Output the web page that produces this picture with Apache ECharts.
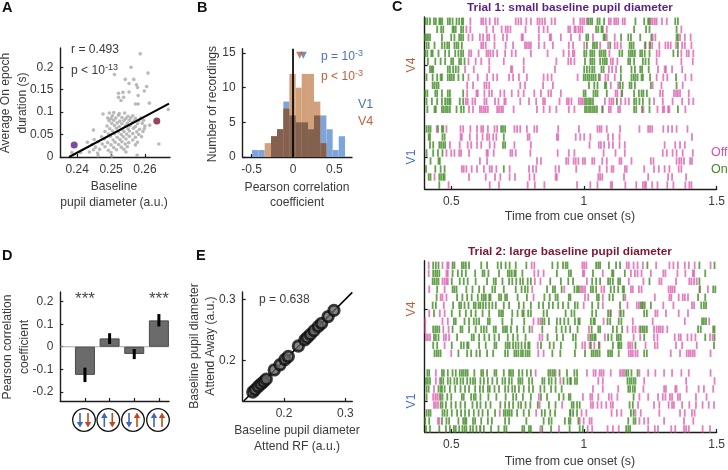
<!DOCTYPE html>
<html><head><meta charset="utf-8">
<style>html,body{margin:0;padding:0;background:#fff}#c{width:728px;height:470px}</style>
<script src="https://cdn.jsdelivr.net/npm/echarts@6/dist/echarts.min.js"></script>
</head><body><div id="c"></div>
<script>
// Panel A: baseline pupil diameter vs. average On epoch duration
const scatterA = [[.2586,.230],[.2559,.200],[.2510,.184],[.2542,.173],[.2567,.173],[.2609,.187],[.2553,.164],[.2575,.161],[.2605,.157],[.2522,.142],[.2535,.144],[.2522,.133],[.2537,.133],[.2598,.147],[.2553,.145],[.2578,.155],[.2580,.137],[.2572,.118],[.2580,.118],[.2613,.120],[.2529,.126],[.2669,.106],[.2476,.096],[.2448,.060],[.2641,.029],[.2614,.071],[.2384,.010],
[.2495,.098],[.2508,.099],[.2524,.097],[.2540,.098],[.2504,.092],[.2522,.093],[.2550,.091],[.2564,.092],[.2490,.087],[.2500,.086],[.2514,.087],[.2532,.088],[.2544,.086],[.2558,.087],[.2572,.086],[.2588,.087],[.2494,.081],[.2508,.082],[.2526,.080],[.2538,.081],[.2554,.082],[.2568,.080],[.2582,.081],[.2596,.082],[.2502,.075],[.2518,.076],[.2532,.074],[.2548,.075],[.2562,.076],[.2578,.074],[.2592,.075],[.2488,.069],[.2510,.070],[.2524,.068],[.2542,.069],[.2556,.070],[.2572,.068],[.2600,.069],[.2496,.063],[.2516,.064],[.2532,.062],[.2550,.063],[.2566,.064],[.2584,.062],[.2598,.063],[.2482,.057],[.2504,.058],[.2522,.056],[.2538,.057],[.2554,.058],[.2576,.056],[.2594,.057],[.2492,.051],[.2510,.052],[.2530,.050],[.2546,.051],[.2564,.052],[.2582,.050],[.2472,.045],[.2498,.046],[.2518,.044],[.2536,.045],[.2554,.046],[.2572,.044],[.2590,.045],[.2450,.039],[.2480,.040],[.2506,.038],[.2526,.039],[.2544,.040],[.2564,.038],[.2430,.033],[.2462,.034],[.2490,.032],[.2512,.033],[.2532,.034],[.2552,.032],[.2578,.033],[.2444,.028],[.2474,.029],[.2500,.027],[.2522,.028],[.2542,.029],[.2572,.027],[.2454,.022],[.2482,.023],[.2508,.021],[.2530,.022],[.2548,.023],[.2448,.016],[.2466,.017],[.2492,.015],[.2516,.016],[.2538,.017],[.2410,.010],[.2436,.011],[.2460,.009],[.2500,.010],[.2544,.011],[.2462,.003],[.2502,.002],[.2577,.004]];
const fitA = [[.2376,0],[.2671,.119]];
const trial1Point = [[.2391,.027]];
const trial2Point = [[.2635,.080]];
const ticksAx = [.24,.25,.26], ticksAy = [0,.05,.1,.15,.2];

// Panel B: histogram of correlations
const binEdges = [-.496,-.420,-.343,-.266,-.194,-.117,-.044,.032,.105,.182,.254,.331,.404,.480,.553,.630];
const countsV1 = [1,1,0,3,4,8,6,5,5,4,6,6,4,1,3];
const countsV4 = [0,0,2,3,4,7,12,10,12,12,8,2,0,0,0];
const meanV1 = .125, meanV4 = .08;
const ticksBx = [-.5,0,.5], ticksBy = [0,5,10,15];

// Panel C: spike raster, times in ms from cue onset, rows 1-12 V4, rows 13-20 V1
const t1On = [
[403,410,420,435,442,455,460,466,487,495,505,520,530,540,545,1016,1024,1031,1051,1059,1076,1194,1227,1242,1247,1344,1354],
[447,462,470,505,510,517,537,545,1046,1054,1066,1071,1189,1234,1247,1349],
[401,407,413,420,465,500,512,530,537,545,1009,1016,1074,1079,1140,1167,1177,1212,1254,1349,1354],
[407,415,437,465,475,485,492,512,520,527,540,1011,1034,1041,1049,1099,1172,1179,1187,1232,1249,1354],
[402,410,425,430,452,477,492,515,527,537,545,1001,1009,1024,1031,1039,1059,1066,1074,1081,1134,1144,1169,1177,1184,1192,1212,1219,1229,1247,1337,1354],
[412,440,460,477,500,507,530,537,550,1004,1024,1031,1039,1061,1071,1079,1086,1167,1174,1189,1222,1232,1244],
[420,427,432,487,495,507,517,527,1001,1011,1021,1031,1039,1066,1074,1139,1179,1192,1212,1219,1244],
[407,430,447,460,465,487,495,502,510,527,545,999,1006,1014,1021,1029,1036,1044,1056,1139,1179,1187,1194,1202,1217,1222,1249,1347],
[430,437,445,452,1019,1039,1051,1079,1084,1136,1146,1172,1179,1192,1252,1349],
[402,410,440,447,465,487,495,545,999,1006,1036,1044,1051,1086,1144,1189,1207,1217,1224,1237],
[407,427,447,465,477,485,492,497,532,545,1004,1011,1019,1026,1034,1124,1189,1197,1209,1222,1247],
[410,437,442,465,472,480,487,495,520,537,547,1004,1011,1019,1026,1034,1041,1049,1069,1189,1197,1219,1247,1354],
[407,415,422,450,465,470,688,695,703],
[415,420,467,475,698],
[420,432,455,462,470,477,695,703],
[407,432,450,467],
[422,452,457],
[405,440,460,475,698],
[415,422,455,462,470,475],
[455]];
const t1Off = [
[572,613,620,630,645,665,675,743,753,763,783,800,825,833,843,853,878,891,961,986,994,1001,1011,1094,1101,1114,1121,1129,1146,1154,1252,1259,1267,1274,1294,1312],
[557,572,633,658,690,705,713,723,780,830,848,863,941,948,964,969,979,986,994,1086,1367],
[565,580,608,620,635,643,663,695,710,765,770,830,871,876,913,951,984,1034,1086,1116,1259,1269,1362,1380,1402],
[613,620,630,663,705,733,778,785,793,800,830,851,883,943,959,1001,1061,1091,1116,1126,1139,1229,1247,1257,1284,1307,1317,1327,1347,1370,1380,1405],
[567,575,603,633,640,648,658,673,703,728,743,800,863,923,943,958,964,1096,1274,1284,1367,1387,1395,1412],
[565,592,613,643,698,773,896,941,951,964,1101,1109,1126,1274,1367,1410],
[552,585,643,725,730,773,891,1094,1106,1121,1279,1304,1309,1332,1370],
[565,600,635,658,673,718,733,755,785,848,863,878,976,1061,1081,1091,1116,1274,1299,1314,1382,1405],
[560,582,625,633,643,760,778,846,883,1101,1129,1259,1292,1372],
[560,595,600,625,643,653,685,700,728,753,773,813,838,866,876,913,1119,1126,1141,1287,1297,1339,1347,1354,1362,1395],
[555,562,580,590,625,633,665,678,700,705,760,793,820,846,853,908,936,943,953,981,989,996,1079,1096,1104,1111,1139,1156,1169,1264,1297,1334,1370,1395,1412],
[567,582,608,615,623,630,638,673,680,688,695,735,823,848,871,896,943,964,1071,1094,1101,1129,1136,1224,1277,1297,1302,1317,1322,1382],
[445,482,535,545,572,597,613,620,638,663,673,738,748,760,785,813,823,903,981,1051,1059,1066,1086,1136,1209,1242,1249,1257,1299,1317,1332,1349,1390],
[535,540,570,597,618,635,643,658,670,788,795,898,903,969,986,1001,1024,1091,1109,1134,1407],
[495,532,562,575,597,613,645,663,738,800,1021,1056,1064,1076,1094,1109,1134,1154,1304,1344,1362,1380],
[482,500,512,530,537,567,633,638,660,723,730,743,798,901,943,964,1074,1119,1154,1297,1312,1334,1349,1372,1410],
[608,635,823,838,933,941,961,969,979,996,1004,1031,1039,1069,1086,1134,1141,1179,1252,1262,1349,1359,1367,1377,1400,1407],
[540,547,557,577,597,623,645,653,670,720,793,808,820,893,906,971,1059,1086,1104,1111,1154,1161,1227,1264,1282,1304,1322,1357,1367],
[437,567,630,665,685,720,740,795,813,893,898,1054,1061,1069,1151,1242,1317,1332,1385],
[490,645,680,788,815,851,974,1024,1051,1101,1106,1156,1197,1222,1229,1234,1257,1277,1314,1337,1382,1397,1405]];
const t2On = [
[432,442,452,505,512,540,547,555,567,613,635,675,688,705,720,743,783,881,901,921,931,938,1046,1054,1061,1094,1121,1136,1239,1435,1492],
[432,440,447,455,505,525,540,555,590,618,625,640,680,713,720,728,738,743,768,898,943,951,1034,1106,1111,1154,1457],
[430,437,445,452,502,532,547,562,592,635,660,668,693,718,730,745,760,770,788,800,873,913,941,959,1031,1046,1061,1091,1099,1109,1129,1136,1247,1435],
[447,505,512,520,557,580,605,623,655,665,698,743,765,778,788,861,883,891,916,964,974,981,1026,1034,1046,1101,1114,1129,1146,1151,1437,1487,1495],
[445,522,542,560,577,600,615,623,630,643,648,680,688,703,710,750,785,851,871,893,901,943,949,1049,1056,1096,1109,1149,1430,1457],
[430,442,507,530,537,550,565,585,592,603,610,620,630,643,655,668,698,718,755,773,800,830,846,868,883,903,921,941,966,976,1031,1054,1136,1214,1222,1229,1252,1442,1452,1460],
[435,502,532,555,575,592,618,643,680,688,695,730,750,768,773,790,800,848,861,931,953,964,1031,1046,1091,1101,1139,1149,1227,1237],
[510,517,550,567,585,595,605,638,645,693,728,775,843,851,868,898,911,926,941,966,979,984,1026,1036,1041,1089,1099,1131,1141,1445,1452,1460],
[432,440,447,455,505,535,542,567,592,613,623,633,660,668,695,703,710,725,748,773,795,843,896,916,931,948,976,1029,1054,1061,1109,1124,1144,1214,1222,1229,1237,1430,1440,1487,1492],
[435,442,452,522,577,585,605,625,643,663,680,713,733,750,780,863,898,921,959,969,1024,1031,1039,1044,1091,1104,1124,1131,1139,1227,1457,1492],
[432,447,502,537,547,560,565,605,630,663,670,705,713,720,733,743,753,765,778,790,795,838,871,886,913,969,1026,1056,1109,1129,1134,1141,1194,1490],
[437,445,452,460,527,560,575,595,608,635,658,703,713,738,745,753,763,770,780,788,795,881,911,966,1004,1029,1036,1044,1051,1059,1091,1099,1106,1131,1227,1237],
[410,417,465,472,487,505,517,532,540,547,555,562,587,613,620,635,663,670,698,718,725,733,755,768,785,800,866,873,881,888,908,936,964,974,1159,1167,1179,1202],
[405,412,420,462,470,487,497,512,522,535,545,560,572,582,590,610,623,638,655,673,693,703,718,728,753,760,768,793,805,843,851,868,878,893,923,938,948,951,966,974,1164,1172,1179,1187,1194],
[407,415,452,460,465,475,495,515,535,552,567,590,608,620,638,645,663,680,703,715,730,740,755,773,793,808,836,851,876,893,916,1167,1174,1184,1192],
[407,460,467,485,500,540,547,575,585,592,610,640,670,705,733,745,770,800,838,861,906,923,943,949,1187],
[460,467,480,500,517,535,552,580,597,610,630,648,685,703,718,733,753,763,780,798,826,868,893,954,961,974,984,1172,1184],
[407,415,422,467,475,485,502,522,537,552,567,585,603,618,638,665,698,705,713,720,728,748,773,793,841,853,873,891,948,949,959,974,1177,1187],
[402,417,465,482,492,527,545,552,557,582,590,613,638,653,703,718,783,848,868,878,928,943,949,979,1167,1187,1194],
[405,420,455,480,495,510,517,530,542,550,557,572,582,595,610,623,650,678,700,708,768,775,793,800,843,876,946,984,996,1159,1167,1174]];
const t2Off = [
[415,467,485,490,803,813,994,1001,1009,1161,1169,1187,1202,1222,1272,1322,1337,1354,1380,1395,1417,1477],
[415,482,487,813,828,848,996,1001,1071,1177,1192,1202,1217,1252,1299,1307,1352,1382,1410,1415],
[467,475,482,487,815,836,1011,1169,1224,1284,1292,1347,1397,1405,1415,1425],
[417,475,805,926,989,996,1004,1066,1076,1177,1184,1207,1217,1319,1327,1334,1342,1435,1467],
[460,467,482,810,1004,1016,1071,1156,1267,1322,1329,1357,1372,1380,1392],
[472,999,1071,1164,1199,1207,1219,1299,1337,1407,1415],
[417,457,475,1099,1134,1269,1277,1309,1357,1392],
[402,467,487,810,828,836,1074,1184,1259,1380,1472],
[402,470,490,805,1019,1164,1184,1194,1209,1264,1274,1282,1289,1297,1314],
[405,412,420,472,480,492,833,843,1016,1079,1187,1212,1264,1277,1342,1357,1365,1390,1405,1420,1475,1485],
[475,826,994,1004,1021,1039,1059,1167,1174,1182,1232,1267,1277,1347,1370,1425],
[500,828,848,1169,1177,1184,1194,1202,1327,1362,1387,1395,1402,1410,1417,1477],
[442,818,893,1011,1036,1044,1059,1066,1074,1101,1136,1144,1151,1209,1242,1269,1302,1332,1367,1395,1477],
[442,457,911,1054,1071,1227,1385,1492],
[435,1034,1071,1129,1224,1302,1309,1344,1349,1387,1432,1452,1487],
[432,440,447,455,830,996,1024,1031,1054,1094,1104,1126,1209,1242,1279,1297,1307,1324,1332,1354,1362,1422,1462],
[435,442,450,833,918,1026,1034,1051,1066,1084,1101,1109,1204,1264,1284,1319,1332,1339,1370,1397,1422,1447,1470,1490],
[683,820,991,1009,1104,1124,1141,1194,1214,1284,1362,1380,1407,1417],
[450,455,984,999,1021,1029,1209,1227,1242,1302,1377,1412],
[608,836,906,1014,1031,1089,1109,1131,1242,1267,1279,1329,1344,1377,1385,1395,1447,1475]];
const ticksC = [.5,1,1.5];

// Panel D: mean correlation by pupil/state condition
const barPos = [1,2,3,4];
const barValues = [-.125,.037,-.032,.117];
const errLow = [-.157,.012,-.055,.09];
const errHigh = [-.093,.060,-.01,.145];
const starPos = [[1,.212],[4,.212]];
const arrowDirs = [['down','down'],['up','down'],['down','up'],['up','up']];
const ticksDy = [-.2,-.1,0,.1,.2];

// Panel E: Attend RF vs. Attend Away
const pupilRF = [.149,.153,.158,.1625,.167,.171,.184,.1935,.2016,.207,.2234,.234,.238,.243,.249,.256,.2614,.272,.2815];
const pupilAway = [.149,.153,.158,.162,.166,.170,.185,.1935,.202,.207,.224,.234,.238,.243,.249,.256,.261,.272,.282];
const ticksE = [.2,.3];

const FONT = '"Liberation Sans", Arial, sans-serif';
const TXT = '#3a3a3a', BLUE = '#4a70c0', ORANGE = '#c0603a', PINK = '#d94fa8', GREEN = '#3f8a22';
const ax = '#1c1c1c';

function axis(index, min, max, ticks, fmt, extra) {
  return Object.assign({
    type: 'value', gridIndex: index, min, max, scale: false,
    splitLine: {show: false},
    axisLine: {show: true, onZero: false, lineStyle: {color: ax, width: 1.4}},
    axisTick: {show: true, inside: true, length: 3, customValues: ticks, lineStyle: {color: ax, width: 1.2}},
    axisLabel: {show: true, customValues: ticks, formatter: fmt, color: TXT, fontFamily: FONT, fontSize: 12, margin: 7, hideOverlap: false}
  }, extra || {});
}
const raw = v => String(v);

const grids = [
  {left: 60.3, top: 48, width: 109.7, height: 109},
  {left: 242.7, top: 48.7, width: 109.3, height: 108.3},
  {left: 424.7, top: 17, width: 292, height: 172},
  {left: 424.7, top: 260.7, width: 292, height: 171.3},
  {left: 60.3, top: 292, width: 108.7, height: 109},
  {left: 242.7, top: 292, width: 109.6, height: 109}
];
const noLabel = {axisLabel: {show: false}};
const xAxes = [
  axis(0, .235, .2674, ticksAx, raw),
  axis(1, -.609, .714, ticksBx, raw),
  axis(2, .4, 1.5, ticksC, raw, {position: 'bottom'}),
  axis(3, .4, 1.5, ticksC, raw, {position: 'bottom'}),
  axis(4, 0, 4.41, barPos, raw, noLabel),
  axis(5, .1326, .3114, ticksE, raw)
];
const yAxes = [
  axis(0, 0, .243, ticksAy, raw),
  axis(1, 0, 15.63, ticksBy, raw),
  axis(2, -.54, 20.96, [5.5, 16.96], raw, Object.assign({inverse: true}, noLabel)),
  axis(3, -.575, 20.84, [5.5, 16.96], raw, Object.assign({inverse: true}, noLabel)),
  axis(4, -.241, .243, ticksDy, raw),
  axis(5, .1344, .312, ticksE, raw)
];

const rowY = i => i < 12 ? i : i + 1.46;
const spikes = rows => rows.flatMap((r, i) => r.map(ms => [ms / 1000, rowY(i)]));
const raster = (rows, idx, color, op) => ({
  type: 'scatter', xAxisIndex: idx, yAxisIndex: idx, data: spikes(rows), symbol: 'rect', symbolSize: [1.8, 7.4],
  itemStyle: {color, opacity: op}, silent: true
});
function histSeries(values, color, z) {
  return {
    type: 'custom', xAxisIndex: 1, yAxisIndex: 1, z, silent: true,
    data: values.map((v, i) => [binEdges[i], binEdges[i + 1], v]),
    renderItem: (p, api) => {
      const a = api.coord([api.value(0), 0]), b = api.coord([api.value(1), api.value(2)]);
      return {type: 'rect', shape: {x: a[0], y: b[1], width: b[0] - a[0], height: a[1] - b[1]}, style: {fill: color}};
    }
  };
}
const overlap = countsV1.map((v, i) => Math.min(v, countsV4[i]));

const series = [
  {type: 'scatter', xAxisIndex: 0, yAxisIndex: 0, data: scatterA, symbolSize: 3.6, itemStyle: {color: '#a8a8a8', opacity: .8}, silent: true},
  {type: 'line', xAxisIndex: 0, yAxisIndex: 0, data: fitA, showSymbol: false, lineStyle: {color: '#000', width: 2}, silent: true},
  {type: 'scatter', xAxisIndex: 0, yAxisIndex: 0, data: trial1Point, symbolSize: 7, itemStyle: {color: '#5a1f8c'}, silent: true},
  {type: 'scatter', xAxisIndex: 0, yAxisIndex: 0, data: trial2Point, symbolSize: 7, itemStyle: {color: '#7d1730'}, silent: true},

  histSeries(countsV1, '#7ea5da', 2),
  histSeries(countsV4, '#d3a07c', 3),
  histSeries(overlap, '#84604f', 4),
  {type: 'line', xAxisIndex: 1, yAxisIndex: 1, z: 5, data: [[0, 0], [0, 15.63]], showSymbol: false, lineStyle: {color: '#000', width: 1.7}, silent: true},
  {type: 'scatter', xAxisIndex: 1, yAxisIndex: 1, z: 6, data: [[meanV1, 14.7]], symbol: 'triangle', symbolRotate: 180, symbolSize: 7, itemStyle: {color: '#4a70c0'}, silent: true},
  {type: 'scatter', xAxisIndex: 1, yAxisIndex: 1, z: 7, data: [[meanV4, 14.7]], symbol: 'triangle', symbolRotate: 180, symbolSize: 7, itemStyle: {color: '#b8603a'}, silent: true},

  raster(t1Off, 2, PINK, .72),
  raster(t1On, 2, GREEN, .8),
  raster(t2Off, 3, PINK, .72),
  raster(t2On, 3, GREEN, .8),

  {type: 'line', xAxisIndex: 4, yAxisIndex: 4, z: 1, data: [[0, 0], [4.41, 0]], showSymbol: false, lineStyle: {color: '#a8a8a8', width: 1.2}, silent: true},
  {type: 'bar', xAxisIndex: 4, yAxisIndex: 4, z: 2, barWidth: 20, data: barPos.map((x, i) => [x, barValues[i]]),
    itemStyle: {color: '#6b6b6b', borderColor: '#4a4a4a', borderWidth: 1}, silent: true},
  {type: 'custom', xAxisIndex: 4, yAxisIndex: 4, z: 3, silent: true,
    data: barPos.map((x, i) => [x, errLow[i], errHigh[i]]),
    renderItem: (p, api) => {
      const a = api.coord([api.value(0), api.value(1)]), b = api.coord([api.value(0), api.value(2)]);
      return {type: 'line', shape: {x1: a[0], y1: a[1], x2: b[0], y2: b[1]}, style: {stroke: '#000', lineWidth: 3}};
    }},
  {type: 'scatter', xAxisIndex: 4, yAxisIndex: 4, z: 4, data: starPos, symbolSize: 0, silent: true,
    label: {show: true, position: 'inside', formatter: '***', color: '#111', fontFamily: FONT, fontSize: 17, fontWeight: 'normal'}},

  {type: 'line', xAxisIndex: 5, yAxisIndex: 5, z: 2, data: [[.1344, .1344], [.3114, .3114]], showSymbol: false, lineStyle: {color: '#000', width: 1.5}, silent: true},
  {type: 'scatter', xAxisIndex: 5, yAxisIndex: 5, z: 3, data: pupilRF.map((x, i) => [x, pupilAway[i]]), symbolSize: 10.5,
    itemStyle: {color: '#666', borderColor: '#0c0c0c', borderWidth: 2.8}, silent: true}
];

const txt = (x, y, text, o) => ({
  type: 'text', x, y, silent: true, rotation: (o && o.rot) || 0,
  style: Object.assign({text, fill: (o && o.fill) || TXT, font: ((o && o.weight) || 'normal') + ' ' + ((o && o.size) || 12.1) + 'px ' + FONT,
    align: (o && o.align) || 'center', verticalAlign: 'middle'}, (o && o.style) || {})
});
const sup = (fill) => ({rich: {
  b: {fill, fontSize: 12.1, fontFamily: FONT, verticalAlign: 'bottom', lineHeight: 14},
  s: {fill, fontSize: 9, fontFamily: FONT, verticalAlign: 'top', lineHeight: 14, padding: [0, 0, 5, 0]}
}});
const R = Math.PI / 2;
const letter = {size: 14.5, weight: 'bold', align: 'left', fill: '#111'};
const graphic = [
  txt(2, 8, 'A', letter),
  txt(197, 8, 'B', letter),
  txt(392, 7, 'C', letter),
  txt(2, 256, 'D', letter),
  txt(196, 256, 'E', letter),

  txt(6, 103, 'Average On epoch', {rot: R}),
  txt(23, 103, 'duration (s)', {rot: R}),
  txt(114, 187, 'Baseline'),
  txt(114, 203, 'pupil diameter (a.u.)'),
  txt(71, 50, 'r = 0.493', {align: 'left'}),
  txt(71, 70, '{b|p < 10}{s|-13}', {align: 'left', style: sup(TXT)}),

  txt(213, 104, 'Number of recordings', {rot: R}),
  txt(297, 188, 'Pearson correlation'),
  txt(297, 203, 'coefficient'),
  txt(321, 56, '{b|p = 10}{s|-3}', {align: 'left', style: sup(BLUE)}),
  txt(321, 76, '{b|p < 10}{s|-3}', {align: 'left', style: sup(ORANGE)}),
  txt(358, 105, 'V1', {align: 'left', fill: BLUE, size: 12.5}),
  txt(358, 122, 'V4', {align: 'left', fill: ORANGE, size: 12.5}),

  txt(570, 8, 'Trial 1: small baseline pupil diameter', {weight: 'bold', fill: '#5a1f8c', size: 11.8}),
  txt(570, 252, 'Trial 2: large baseline pupil diameter', {weight: 'bold', fill: '#7d1730', size: 11.8}),
  txt(412, 65, 'V4', {rot: R, fill: ORANGE}),
  txt(412, 157, 'V1', {rot: R, fill: BLUE}),
  txt(412, 309, 'V4', {rot: R, fill: ORANGE}),
  txt(412, 401, 'V1', {rot: R, fill: BLUE}),
  txt(711, 153, 'Off', {align: 'left', fill: PINK, size: 12.5}),
  txt(711, 170, 'On', {align: 'left', fill: GREEN, size: 12.5}),
  txt(570, 217, 'Time from cue onset (s)', {size: 12.4}),
  txt(570, 462, 'Time from cue onset (s)', {size: 12.4}),

  txt(8, 347, 'Pearson correlation', {rot: R}),
  txt(25, 347, 'coefficient', {rot: R}),

  txt(195, 346, 'Baseline pupil diameter', {rot: R}),
  txt(211, 346, 'Attend Away (a.u.)', {rot: R}),
  txt(297, 431, 'Baseline pupil diameter'),
  txt(297, 447, 'Attend RF (a.u.)'),
  txt(259, 300, 'p = 0.638', {align: 'left'})
];
// condition icons beneath panel D
const iconX = [84, 108.3, 133, 158], iconY = 420;
function arrow(cx, dir, color) {
  const s = dir === 'up' ? -1 : 1;
  return [
    {type: 'line', silent: true, shape: {x1: cx, y1: iconY - s * 7, x2: cx, y2: iconY + s * 3}, style: {stroke: color, lineWidth: 1.6}},
    {type: 'polygon', silent: true, shape: {points: [[cx - 3.2, iconY + s * 2], [cx + 3.2, iconY + s * 2], [cx, iconY + s * 7.5]]}, style: {fill: color}}
  ];
}
iconX.forEach((cx, i) => {
  graphic.push({type: 'circle', silent: true, shape: {cx, cy: iconY, r: 11.3}, style: {fill: '#fff', stroke: '#111', lineWidth: 1.3}});
  graphic.push(...arrow(cx - 4, arrowDirs[i][0], '#3e66c0'), ...arrow(cx + 4, arrowDirs[i][1], '#bf4a1e'));
});

const chart = echarts.init(document.getElementById('c'), null, {renderer: 'canvas'});
chart.setOption({animation: false, backgroundColor: '#fff', grid: grids, xAxis: xAxes, yAxis: yAxes, series, graphic});
</script></body></html>
